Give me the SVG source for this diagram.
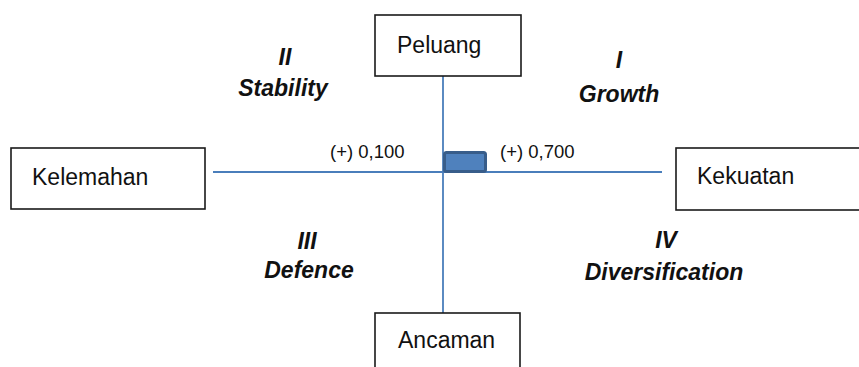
<svg xmlns="http://www.w3.org/2000/svg" width="859" height="367" viewBox="0 0 859 367">
<style>
.box{fill:#fff;stroke:#1a1a1a;stroke-width:1.6}
.lbl{font-family:"Liberation Sans",Arial,sans-serif;font-size:23px;fill:#111}
.val{font-family:"Liberation Sans",Arial,sans-serif;font-size:18.5px;fill:#111}
.q{font-family:"Liberation Sans",Arial,sans-serif;font-size:23px;font-weight:bold;font-style:italic;fill:#111;text-anchor:middle}
.ax{stroke:#4a7ebb;stroke-width:1.8;fill:none}
</style>
<rect width="859" height="367" fill="#fff"/>
<g id="connectors">
<line class="ax" x1="443" y1="76" x2="443" y2="313"/>
<line class="ax" x1="213" y1="172" x2="662" y2="172"/>
</g>
<g id="peluang"><rect class="box" x="375" y="15" width="146" height="61"/><text class="lbl" x="397" y="53">Peluang</text></g>
<g id="kelemahan"><rect class="box" x="11" y="148" width="194" height="61"/><text class="lbl" x="32" y="185">Kelemahan</text></g>
<g id="kekuatan"><rect class="box" x="676" y="148" width="190" height="62"/><text class="lbl" x="697" y="184">Kekuatan</text></g>
<g id="ancaman"><rect class="box" x="375" y="313" width="145" height="70"/><text class="lbl" x="398" y="348">Ancaman</text></g>
<g id="point"><rect x="444.5" y="152.5" width="41" height="19" rx="2" fill="#4f81bd" stroke="#385d8a" stroke-width="3"/></g>
<g id="values">
<text class="val" x="330" y="158">(+) 0,100</text>
<text class="val" x="500" y="158">(+) 0,700</text>
</g>
<g id="quadrants">
<text class="q" x="285" y="65">II</text>
<text class="q" x="283" y="96">Stability</text>
<text class="q" x="619" y="68">I</text>
<text class="q" x="619" y="102">Growth</text>
<text class="q" x="307" y="249">III</text>
<text class="q" x="309" y="278">Defence</text>
<text class="q" x="666" y="248">IV</text>
<text class="q" x="664" y="280">Diversification</text>
</g>
</svg>
